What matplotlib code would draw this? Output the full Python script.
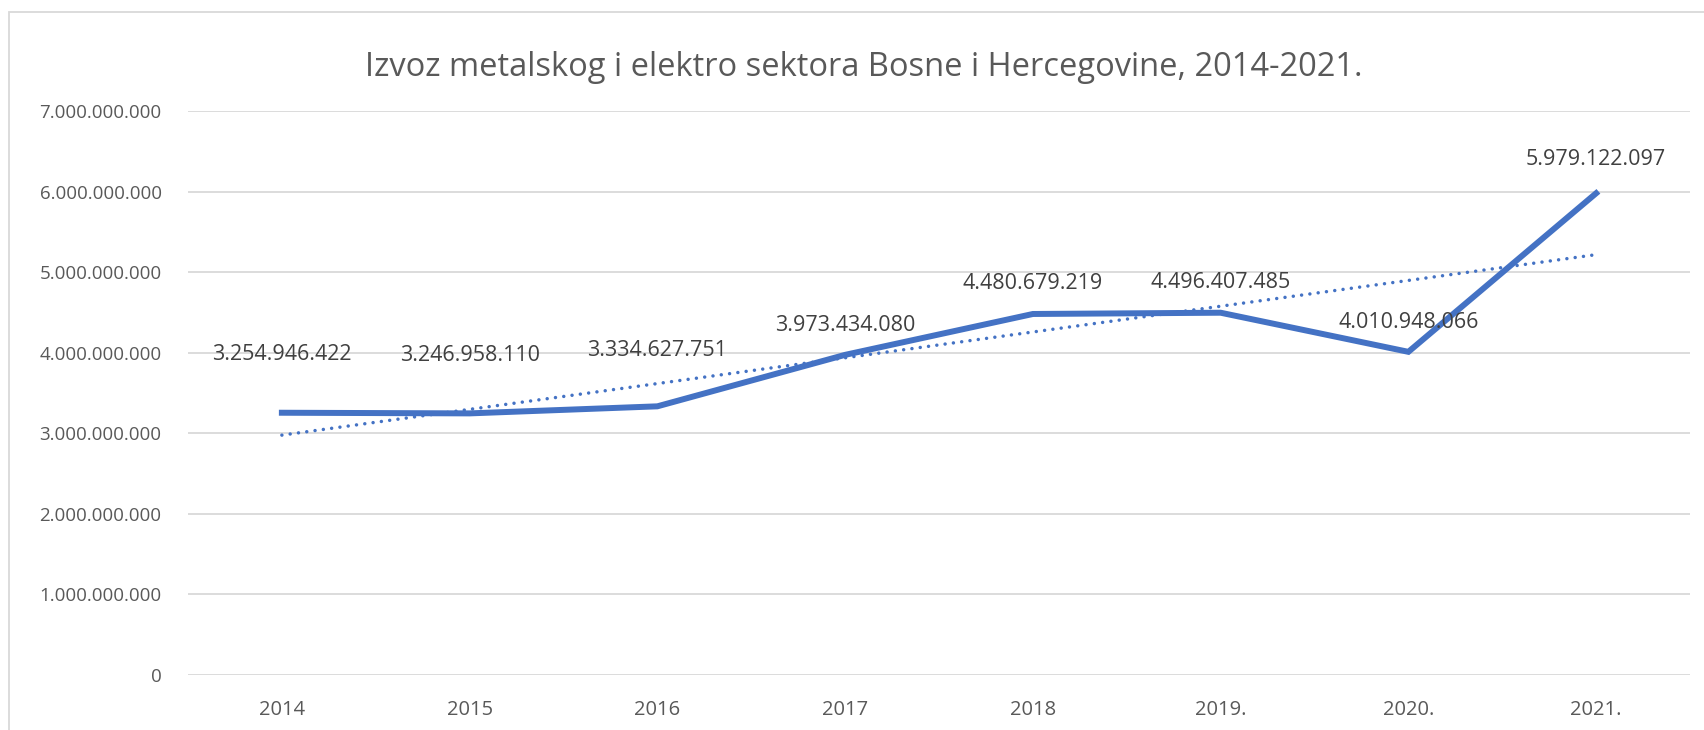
import numpy as np
import matplotlib.pyplot as plt
from matplotlib.patches import Rectangle
from matplotlib.ticker import FuncFormatter

plt.rcParams['font.family'] = ['Open Sans', 'DejaVu Sans']

years = ['2014', '2015', '2016', '2017', '2018', '2019.', '2020.', '2021.']
izvoz = [3254946422, 3246958110, 3334627751, 3973434080,
         4480679219, 4496407485, 4010948066, 5979122097]
title = 'Izvoz metalskog i elektro sektora Bosne i Hercegovine, 2014-2021.'

# label offsets in points above the point (some labels moved up in the original)
label_dy = [42, 42, 40, 21, 22, 22, 21, 24]

def dotfmt(v):
    return f'{int(round(v)):,}'.replace(',', '.')

fig = plt.figure(figsize=(17.04, 7.30), dpi=100)
ax = fig.add_axes([188/1704, 1-675/730, (1690-188)/1704, (675-111)/730])

x = np.arange(len(years))
ax.plot(x, izvoz, color='#4472C4', lw=4.3, solid_joinstyle='miter', zorder=3)

# linear trendline
k, b = np.polyfit(x, izvoz, 1)
ax.plot(x, k*x + b, color='#4472C4', lw=2.5, linestyle=(0, (0.01, 2.4)),
        dash_capstyle='round', zorder=2)

for xi, v, dy in zip(x, izvoz, label_dy):
    ax.annotate(dotfmt(v), (xi, v), xytext=(0, dy), textcoords='offset points',
                ha='center', va='center', fontsize=15.5, color='#404040')

ax.set_xlim(-0.5, len(years)-0.5)
ax.set_ylim(0, 7e9)
ax.set_yticks(np.arange(0, 7.5e9, 1e9))
ax.yaxis.set_major_formatter(FuncFormatter(lambda v, p: dotfmt(v)))
ax.set_xticks(x)
ax.set_xticklabels(years)
ax.grid(axis='y', color='#D9D9D9', lw=1.3)
ax.set_axisbelow(True)
for s in ax.spines.values():
    s.set_visible(False)
ax.tick_params(length=0, labelsize=13.5, colors='#595959')
ax.tick_params(axis='x', pad=18, labelsize=14.5)
ax.tick_params(axis='y', pad=19)

fig.text(0.507, 1-67/730, title, ha='center', va='center', fontsize=23.5, color='#595959')

fig.patches.append(Rectangle((9/1704, -0.1), 1.2, 1-12/730+0.1, transform=fig.transFigure,
                             fill=False, edgecolor='#D9D9D9', lw=1.3))

fig.savefig('out.png', dpi=100)
